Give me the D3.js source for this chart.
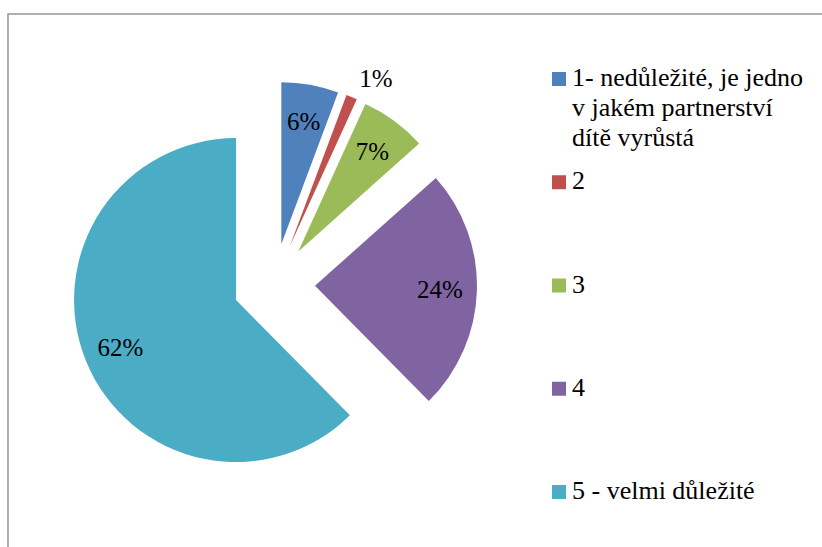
<!DOCTYPE html>
<html>
<head>
    <meta charset="utf-8">
    <title>Důležitost partnerství</title>
    <script src="https://cdnjs.cloudflare.com/ajax/libs/d3/7.8.5/d3.min.js"></script>
    <style>
        body {
            margin: 0;
            background: #fff;
        }
        svg {
            display: block;
        }
        svg text {
            font-family: "Liberation Serif", "Times New Roman", Times, serif;
        }
    </style>
</head>
<body>
    <svg id="chart" width="822" height="547"></svg>

    <script>
        // Data
        const categories = [
            "1- nedůležité, je jedno v jakém partnerství dítě vyrůstá",
            "2",
            "3",
            "4",
            "5 - velmi důležité"
        ];
        const legendLines = [
            ["1- nedůležité, je jedno", "v jakém partnerství", "dítě vyrůstá"],
            ["2"],
            ["3"],
            ["4"],
            ["5 - velmi důležité"]
        ];
        const values = [5.7, 1.1, 6.6, 24.2, 62.4];
        const colors = ["#4F81BD", "#C0504D", "#9BBB59", "#8064A2", "#4BACC6"];
        // popisek mimo výseč
        const outsideLabels = ["2"];

        const serif = "'Liberation Serif', 'Times New Roman', Times, serif";
        const svg = d3.select("#chart");

        // Rámeček grafu (pravá a spodní hrana jsou mimo obrázek)
        svg.append("rect")
            .attr("x", 8)
            .attr("y", 14)
            .attr("width", 900)
            .attr("height", 700)
            .attr("fill", "none")
            .attr("stroke", "#868686")
            .attr("stroke-width", 1.3);

        // Koláč
        const center = {x: 274, y: 284.5};
        const radius = 162;
        const explode = 41;

        const color = d3.scaleOrdinal()
            .domain(categories)
            .range(colors);

        const pie = d3.pie()
            .sort(null)
            .value(d => d.value);

        const arcs = pie(categories.map((c, i) => ({key: c, short: legendLines[i][0], value: values[i]})));

        const arc = d3.arc()
            .innerRadius(0)
            .outerRadius(radius);

        const labelArc = d3.arc()
            .innerRadius(125)
            .outerRadius(125);

        const outerArc = d3.arc()
            .innerRadius(radius + 20)
            .outerRadius(radius + 20);

        function offset(d) {
            const mid = (d.startAngle + d.endAngle) / 2;
            return [explode * Math.sin(mid), -explode * Math.cos(mid)];
        }

        const slices = svg.append("g")
            .attr("transform", `translate(${center.x},${center.y})`)
            .selectAll("g")
            .data(arcs)
            .join("g")
            .attr("transform", d => {
                const [dx, dy] = offset(d);
                return `translate(${dx},${dy})`;
            });

        slices.append("path")
            .attr("d", arc)
            .attr("fill", d => color(d.data.key));

        const fmt = d3.format(".0f");

        slices.append("text")
            .attr("transform", d => {
                const outside = outsideLabels.includes(d.data.short);
                const [lx, ly] = outside ? outerArc.centroid(d) : labelArc.centroid(d);
                return `translate(${lx},${ly})`;
            })
            .attr("text-anchor", d => outsideLabels.includes(d.data.short) ? "start" : "middle")
            .attr("dy", "0.35em")
            .attr("font-family", serif)
            .attr("font-size", 25)
            .attr("fill", "#000")
            .text(d => fmt(d.data.value) + "%");

        // Legenda
        const legendY = d3.scaleLinear()
            .domain([0, categories.length - 1])
            .range([79, 492]);

        const legend = svg.append("g")
            .selectAll("g")
            .data(categories)
            .join("g")
            .attr("transform", (d, i) => `translate(552,${legendY(i)})`);

        legend.append("rect")
            .attr("x", 0)
            .attr("y", -7)
            .attr("width", 14)
            .attr("height", 14)
            .attr("fill", d => color(d));

        legend.append("text")
            .attr("x", 20)
            .attr("y", -2)
            .attr("font-family", serif)
            .attr("font-size", 26)
            .attr("fill", "#000")
            .selectAll("tspan")
            .data((d, i) => legendLines[i])
            .join("tspan")
            .attr("x", 20)
            .attr("dy", (d, j) => j === 0 ? "0.35em" : "30")
            .text(d => d);
    </script>
</body>
</html>
